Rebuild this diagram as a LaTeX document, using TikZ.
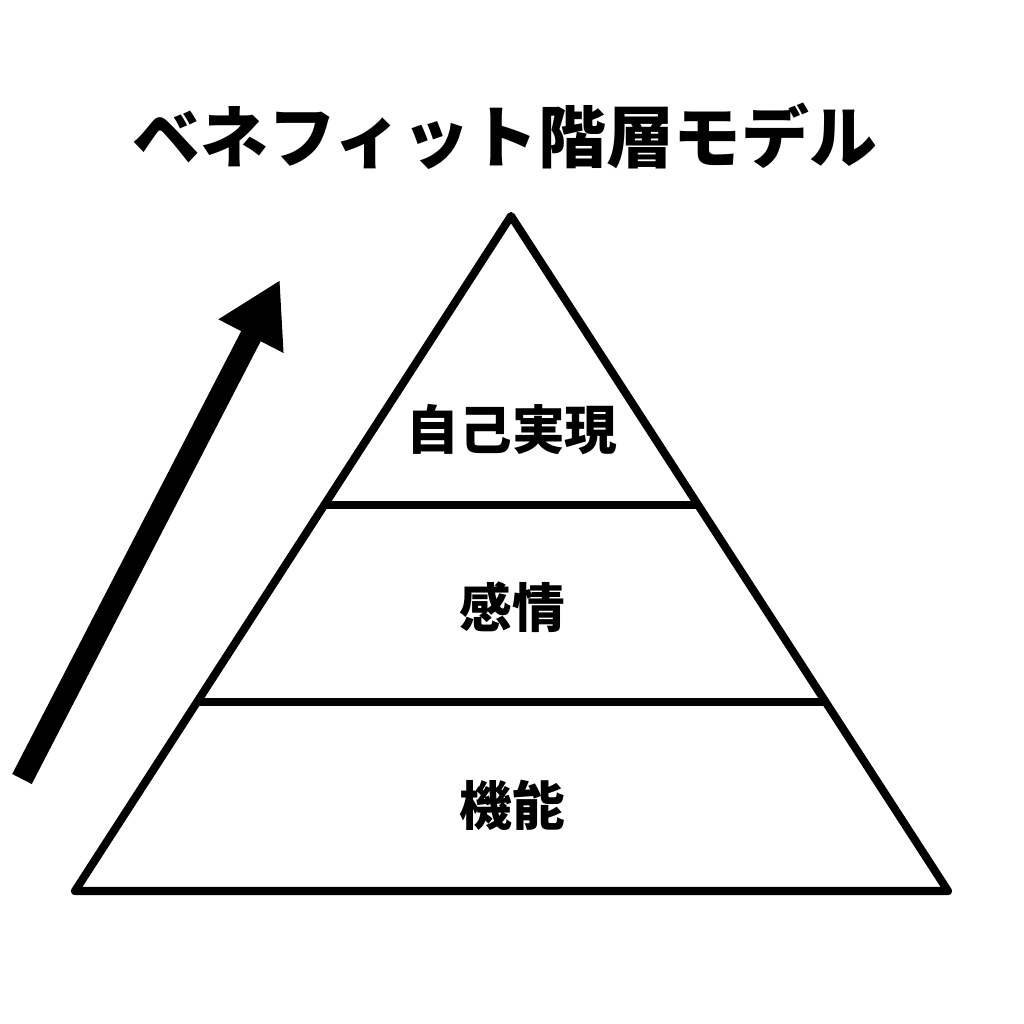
\documentclass[tikz,border=0pt]{standalone}
\usepackage{fontspec}
\newfontfamily\jpfont{Noto Sans CJK JP}
\usetikzlibrary{calc,arrows.meta}

\begin{document}
\begin{tikzpicture}[x=0.02cm, y=-0.02cm, line join=round]
    \useasboundingbox (0,0) rectangle (1024,1024);
    \coordinate (A) at (511,216);  % apex
    \coordinate (L) at (75,891);
    \coordinate (R) at (948,891);
    \coordinate (L1) at ($(L)!0.28!(A)$);
    \coordinate (R1) at ($(R)!0.28!(A)$);
    \coordinate (L2) at ($(L)!0.572!(A)$);
    \coordinate (R2) at ($(R)!0.572!(A)$);
    \coordinate (S) at (22,779);   % arrow start
    \coordinate (T) at (280,280);  % arrow tip

    \draw[line width=4.6pt] (L) -- (R) -- (A) -- cycle;
    \draw[line width=4.6pt] (L1) -- (R1);
    \draw[line width=4.6pt] (L2) -- (R2);

    \draw[line width=12.5pt, -{Triangle[length=36pt, width=39pt]}] (S) -- (T);

    \node[font=\jpfont\bfseries\fontsize{38.6}{44}\selectfont] (title) at (505,136) {ベネフィット階層モデル};
    \node[font=\jpfont\bfseries\fontsize{30}{36}\selectfont] (top) at (512,430) {自己実現};
    \node[font=\jpfont\bfseries\fontsize{30}{36}\selectfont] (mid) at (512,607) {感情};
    \node[font=\jpfont\bfseries\fontsize{30}{36}\selectfont] (low) at (512,805) {機能};
\end{tikzpicture}
\end{document}
